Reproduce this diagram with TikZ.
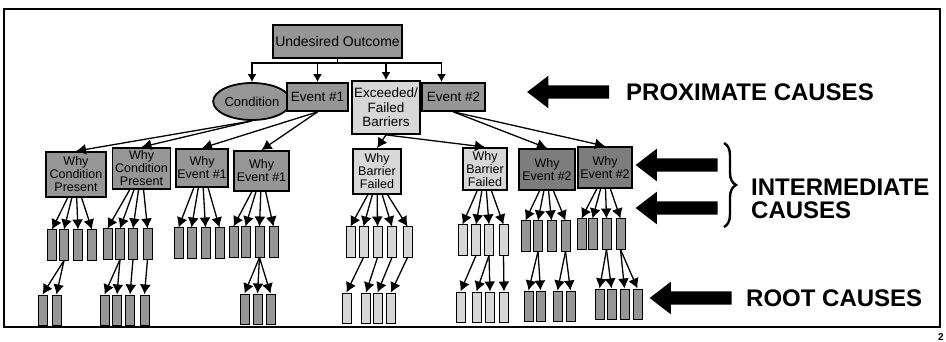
\documentclass[tikz,border=0pt]{standalone}
\usepackage{fontspec}
\setmainfont{Liberation Sans}
\definecolor{darkfill}{RGB}{150,150,150}
\definecolor{eventfill}{RGB}{125,125,125}
\definecolor{lightfill}{RGB}{215,215,215}
\usepackage{tikz}
\usetikzlibrary{shapes.geometric, shapes.arrows, arrows.meta, calc, decorations.pathreplacing}

\tikzset{
  causebox/.style={draw, line width=1.8pt, fill=darkfill, align=center, inner sep=1pt, font=\fontsize{12.5}{13}\selectfont},
  barrierbox/.style={causebox, fill=lightfill},
  eventbox/.style={causebox, fill=eventfill},
  leafbox/.style={draw, line width=1pt, fill=darkfill, minimum width=9pt, minimum height=30pt, inner sep=0pt},
  lightleaf/.style={leafbox, fill=lightfill},
  link/.style={line width=1.3pt, -{Latex[length=10pt,width=11pt]}},
  toplink/.style={line width=1.4pt, -{Latex[length=8pt,width=9pt]}},
  bigarrow/.style={single arrow, fill=black, shape border rotate=180, minimum height=82pt, inner xsep=0pt, inner ysep=6.5pt, single arrow head extend=9.5pt, single arrow tip angle=75},
  causetext/.style={font=\bfseries\fontsize{24}{23}\selectfont, inner sep=0pt}
}

\begin{document}
\begin{tikzpicture}[x=1pt, y=-1pt]
  \useasboundingbox (0,0) rectangle (946,342);
  \draw[line width=1.3pt] (4,9) rectangle (940,327);

  % top event and proximate causes
  \node[causebox, minimum width=129pt, minimum height=33pt, font=\fontsize{14}{14}\selectfont] (uo) at (337.5,41.5) {Undesired Outcome};
  \node[causebox, ellipse, minimum width=64pt, minimum height=37pt, inner sep=0pt, font=\fontsize{13}{13}\selectfont] (cond) at (252,101.5) {Condition};
  \node[causebox, minimum width=61pt, minimum height=28pt, font=\fontsize{13.5}{14}\selectfont] (ev1) at (317.5,97) {Event \#1};
  \node[barrierbox, minimum width=68pt, minimum height=53pt, font=\fontsize{13.5}{14.5}\selectfont] (exc) at (386,107.5) {Exceeded/\\Failed\\Barriers};
  \node[causebox, minimum width=63pt, minimum height=28pt, font=\fontsize{13.5}{14}\selectfont] (ev2) at (453.5,97) {Event \#2};

  \coordinate (bus) at (337.5,63);
  \draw[line width=1.4pt] (uo.south) -- (bus);
  \foreach \n in {cond,ev1,exc} {
    \draw[toplink] (bus) -| (\n.north);
  }
  \draw[toplink] (bus) -| ([xshift=-12pt]ev2.north);

  % intermediate causes
  \node[causebox, minimum width=60pt, minimum height=45pt] (wcp1) at (76,174.5) {Why\\Condition\\Present};
  \node[causebox, minimum width=58pt, minimum height=41pt] (wcp2) at (141.5,168.5) {Why\\Condition\\Present};
  \node[causebox, minimum width=52pt, minimum height=38pt] (we1a) at (202,168) {Why\\Event \#1};
  \node[causebox, minimum width=55pt, minimum height=40pt] (we1b) at (261.5,171) {Why\\Event \#1};
  \node[barrierbox, minimum width=48pt, minimum height=45pt] (wbf1) at (377,171.5) {Why\\Barrier\\Failed};
  \node[barrierbox, minimum width=44pt, minimum height=42pt] (wbf2) at (485,169) {Why\\Barrier\\Failed};
  \node[eventbox, minimum width=56pt, minimum height=41pt] (we2a) at (547,169.5) {Why\\Event \#2};
  \node[eventbox, minimum width=54pt, minimum height=41pt] (we2b) at (605,167.5) {Why\\Event \#2};

  \draw[link] (cond.south) -- (wcp1.north);
  \draw[link] (cond.south) -- (wcp2.north);
  \draw[link] (ev1.south) -- (we1a.north);
  \draw[link] (ev1.south) -- (we1b.north);
  \draw[link] (exc.south) -- (wbf1.north);
  \draw[link] (exc.south) -- (wbf2.north);
  \draw[link] (ev2.south) -- (we2a.north);
  \draw[link] (ev2.south) -- (we2b.north);

  \foreach \p/\xs/\ty/\st in {
    wcp1/{52,64,78,92}/230/leafbox,
    wcp2/{107.5,120,133,147.5}/229/leafbox,
    we1a/{178.5,191.5,205.5,219.5}/228/leafbox,
    we1b/{233.5,245.5,259.5,273.5}/227/leafbox,
    wbf1/{350.5,363.5,377.5,392,407.5}/227/lightleaf,
    wbf2/{462.5,476,489,503.5}/225/lightleaf,
    we2a/{525.5,538,551.5,565.5}/221/leafbox,
    we2b/{581.5,592.5,606.5,620.5}/219/leafbox} {
    \foreach \x [count=\i] in \xs {
      \node[\st] (\p-\i) at (\x,\ty+15) {};
      \draw[link] ($(\p.south)!.35!(\p.south -| \p-\i.north)$) -- (\p-\i.north);
    }
  }

  % root causes
  \foreach \p/\xs/\ty/\st in {
    wcp1-2/{42.5,56.5}/295/leafbox,
    wcp2-2/{104.5,117}/295/leafbox,
    wcp2-3/{130}/295/leafbox,
    wcp2-4/{144.5}/295/leafbox,
    we1b-3/{244.5,257.5,270.5}/294/leafbox,
    wbf1-2/{346.5}/293/lightleaf,
    wbf1-3/{366}/293/lightleaf,
    wbf1-4/{377.5}/293/lightleaf,
    wbf1-5/{391}/293/lightleaf,
    wbf2-2/{460.5}/292/lightleaf,
    wbf2-3/{476.5,490}/292/lightleaf,
    wbf2-4/{504}/292/lightleaf,
    we2a-2/{528.5,540.5}/291/leafbox,
    we2a-4/{557.5,570.5}/291/leafbox,
    we2b-3/{599.5,611.5}/289/leafbox,
    we2b-4/{624.5,637.5}/289/leafbox} {
    \foreach \x [count=\i] in \xs {
      \node[\st] (\p-r\i) at (\x,\ty+15) {};
      \draw[link] (\p.south) -- (\p-r\i.north);
    }
  }

  % level markers
  \node[bigarrow] (proxarrow) at (572.5,92) {};
  \node[bigarrow] (intarrowa) at (681,165) {};
  \node[bigarrow] (intarrowb) at (681,208) {};
  \node[bigarrow] (rootarrow) at (695,298) {};
  \draw[line width=2.4pt, decorate, decoration={brace, amplitude=12pt}] (724,143) -- (724,227);

  \node[causetext, anchor=west] (proxtext) at (626,92) {PROXIMATE CAUSES};
  \node[causetext, anchor=north west, align=left] (inttext) at (751,179) {INTERMEDIATE\\CAUSES};
  \node[causetext, anchor=west] (roottext) at (746,298) {ROOT CAUSES};
  \node[font=\bfseries\fontsize{10}{10}\selectfont, inner sep=0pt] (pagenum) at (941,337) {2};
\end{tikzpicture}
\end{document}
